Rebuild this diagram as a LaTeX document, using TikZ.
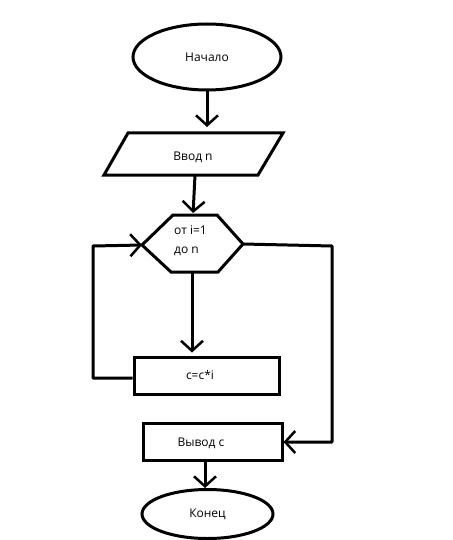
\documentclass[tikz,border=0pt]{standalone}
\usepackage{fontspec}
\setmainfont{Open Sans}
\usetikzlibrary{arrows.meta,shapes.geometric}
\begin{document}
\begin{tikzpicture}[x=1pt,y=-1pt,
  every node/.style={font=\fontsize{12}{19}\selectfont},
  shp/.style={draw=black,line width=3pt},
  term/.style={shp,ellipse,inner sep=0pt},
  proc/.style={shp,rectangle,inner sep=0pt},
  flow/.style={line width=3pt,-{Straight Barb[length=10pt,width=22pt,line width=2.5pt]}},
  line/.style={line width=3pt}]
\useasboundingbox (0,0) rectangle (452,540);
% start
\node[term,minimum width=148pt,minimum height=66pt] (start) at (207,57) {Начало};
% input parallelogram
\coordinate (inT) at (207,133);
\coordinate (inB) at (195,175);
\draw[shp,line join=miter] (128,133) -- (283,133) -- (258,175) -- (104,175) -- cycle;
\node (intext) at (193,157) {Ввод n};
% loop hexagon
\coordinate (hexT) at (193,215);
\coordinate (hexB) at (192,272);
\coordinate (hexL) at (142,245);
\coordinate (hexR) at (243,244);
\draw[shp] (173,215) -- (217,215) -- (hexR) -- (218,272) -- (171,272) -- (hexL) -- cycle;
\node[anchor=north west,align=left,inner sep=0pt] (hextext) at (174,225) {от i=1\\до n};
% body
\node[proc,minimum width=145pt,minimum height=37pt] (body) at (206.5,375.5) {};
\node (bodytext) at (200,375) {c=c*i};
% output
\node[proc,minimum width=139pt,minimum height=37pt] (out) at (212.5,441.5) {};
\node (outtext) at (201,443) {Вывод c};
% end
\node[term,minimum width=131pt,minimum height=49pt] (stop) at (207.5,514) {Конец};
% connectors
\draw[flow,shorten >=6pt] (start.south) -- (inT);
\draw[flow,shorten >=2pt] (inB) -- (hexT);
\draw[flow,shorten >=3pt] (hexB) -- (body.north -| hexB);
\coordinate (lp1) at (93,378);
\coordinate (lp2) at (93,246);
\draw[flow,line join=round] (body.west |- lp1) -- (lp1) -- (lp2) -- (hexL);
\coordinate (rp1) at (332,246);
\coordinate (rp2) at (332,442);
\draw[flow,line join=round] (hexR) -- (rp1) -- (rp2) -- (out.east |- rp2);
\draw[flow] (out.south -| 205,0) -- (stop.north -| 205,0);
\end{tikzpicture}
\end{document}
